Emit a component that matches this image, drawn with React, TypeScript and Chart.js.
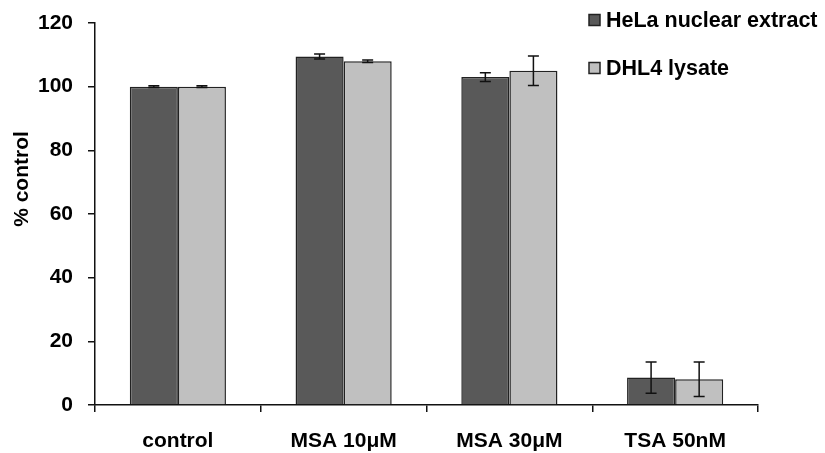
import React, { useEffect, useRef } from "react";
import { Chart, registerables } from "chart.js";

Chart.register(...registerables);

const categories = ["control", "MSA 10μM", "MSA 30μM", "TSA 50nM"];
const seriesNames = ["HeLa nuclear extract", "DHL4 lysate"];
const helaValues = [100, 109.5, 103, 8.6];
const helaErrors = [0.3, 0.8, 1.4, 4.9];
const dhlValues = [100, 108, 105, 8.1];
const dhlErrors = [0.3, 0.4, 4.6, 5.4];
const yTicks = [0, 20, 40, 60, 80, 100, 120];
const yTitle = "% control";
const colors = ["#595959", "#c0c0c0"];

const FONT = "'Liberation Sans', Arial, sans-serif";

export default function App() {
  const ref = useRef<HTMLCanvasElement>(null);
  useEffect(() => {
    const errs = [helaErrors, dhlErrors];
    const errorBars = {
      id: "errorBars",
      afterDatasetsDraw(chart: any) {
        const ctx = chart.ctx;
        const y = chart.scales.y;
        ctx.save();
        ctx.strokeStyle = "#111";
        ctx.lineWidth = 1.5;
        chart.data.datasets.forEach((ds: any, di: number) => {
          const meta = chart.getDatasetMeta(di);
          meta.data.forEach((el: any, i: number) => {
            const v = ds.data[i];
            const e = errs[di][i];
            const top = y.getPixelForValue(v + e);
            const bot = y.getPixelForValue(v - e);
            ctx.beginPath();
            ctx.moveTo(el.x, top);
            ctx.lineTo(el.x, bot);
            ctx.moveTo(el.x - 5.5, top);
            ctx.lineTo(el.x + 5.5, top);
            ctx.moveTo(el.x - 5.5, bot);
            ctx.lineTo(el.x + 5.5, bot);
            ctx.stroke();
          });
        });
        ctx.restore();
      },
    };
    const legendPlugin = {
      id: "customLegend",
      afterDraw(chart: any) {
        const ctx = chart.ctx;
        ctx.save();
        const rows = [20, 68];
        chart.data.datasets.forEach((ds: any, i: number) => {
          const cy = rows[i];
          ctx.fillStyle = ds.backgroundColor;
          ctx.fillRect(589, cy - 5.5, 11, 11);
          ctx.strokeStyle = "#222";
          ctx.lineWidth = 1.5;
          ctx.strokeRect(589, cy - 5.5, 11, 11);
          ctx.fillStyle = "#000";
          ctx.font = "bold 21.5px " + FONT;
          ctx.textBaseline = "middle";
          ctx.textAlign = "left";
          ctx.fillText(ds.label, 606, cy + 1);
        });
        // y-axis title
        ctx.translate(22, 179);
        ctx.rotate(-Math.PI / 2);
        ctx.font = "bold 21px " + FONT;
        ctx.fillStyle = "#000";
        ctx.textAlign = "center";
        ctx.textBaseline = "middle";
        ctx.fillText(yTitle, 0, 0);
        ctx.restore();
      },
    };
    const chart = new Chart(ref.current!, {
      type: "bar",
      data: {
        labels: categories,
        datasets: [
          {
            label: seriesNames[0],
            data: helaValues,
            backgroundColor: colors[0],
            borderColor: "#222",
            borderWidth: 1.5,
            categoryPercentage: 0.58,
            barPercentage: 1,
          },
          {
            label: seriesNames[1],
            data: dhlValues,
            backgroundColor: colors[1],
            borderColor: "#222",
            borderWidth: 1.5,
            categoryPercentage: 0.58,
            barPercentage: 1,
          },
        ],
      },
      options: {
        animation: false,
        responsive: true,
        maintainAspectRatio: false,
        layout: { padding: { top: 23, right: 67, left: 0, bottom: 0 } },
        plugins: { legend: { display: false }, tooltip: { enabled: false } },
        scales: {
          x: {
            grid: {
              drawOnChartArea: false,
              drawTicks: true,
              tickLength: 7,
              color: "#111",
              lineWidth: 1.5,
              offset: true,
            },
            border: { color: "#111", width: 1.5 },
            ticks: {
              color: "#000",
              padding: 17,
              font: { family: FONT, size: 21, weight: "bold" },
            },
            afterFit: (s: any) => {
              s.height = 48;
              s.paddingLeft = 0;
              s.paddingRight = 0;
            },
          },
          y: {
            min: 0,
            max: 120,
            afterBuildTicks: (s: any) => {
              s.ticks = yTicks.map((v) => ({ value: v }));
            },
            grid: {
              drawOnChartArea: false,
              drawTicks: true,
              tickLength: 7,
              color: "#111",
              lineWidth: 1.5,
            },
            border: { color: "#111", width: 1.5 },
            ticks: {
              color: "#000",
              padding: 15,
              font: { family: FONT, size: 21, weight: "bold" },
            },
            title: { display: false },
            afterFit: (s: any) => {
              s.width = 95;
              s.paddingTop = 0;
              s.paddingBottom = 0;
            },
          },
        },
      },
      plugins: [errorBars, legendPlugin],
    });
    return () => chart.destroy();
  }, []);
  return (
    <div style={{ position: "fixed", left: 0, top: 0, width: 825, height: 453, background: "#fff" }}>
      <canvas ref={ref} />
    </div>
  );
}
